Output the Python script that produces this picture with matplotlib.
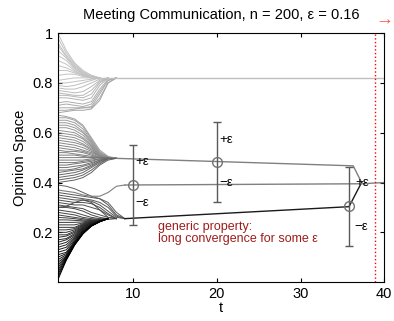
import numpy as np
import matplotlib
matplotlib.use('Agg')
import matplotlib.pyplot as plt

plt.rcParams['font.family'] = ['Liberation Sans', 'DejaVu Sans']

# trajectories for t = 1, 2, 3, ... (each row one agent)
top_rows = [
    [1.00, 0.93, 0.88, 0.85, 0.83, 0.82],
    [0.98, 0.92, 0.875, 0.845, 0.83, 0.82],
    [0.96, 0.91, 0.87, 0.84, 0.825, 0.82],
    [0.95, 0.905, 0.865, 0.84, 0.825, 0.82],
    [0.93, 0.90, 0.86, 0.835, 0.825, 0.82],
    [0.91, 0.89, 0.855, 0.835, 0.82, 0.82],
    [0.89, 0.875, 0.85, 0.83, 0.82, 0.82],
    [0.87, 0.86, 0.845, 0.83, 0.82, 0.82],
    [0.85, 0.85, 0.84, 0.83, 0.82, 0.82],
    [0.83, 0.835, 0.835, 0.825, 0.82, 0.82],
    [0.81, 0.815, 0.82, 0.82, 0.82, 0.82],
    [0.80, 0.80, 0.805, 0.81, 0.815, 0.82],
    [0.79, 0.785, 0.79, 0.80, 0.81, 0.82],
    [0.78, 0.775, 0.775, 0.785, 0.80, 0.815, 0.82],
    [0.77, 0.765, 0.76, 0.765, 0.785, 0.81, 0.82],
    [0.76, 0.755, 0.75, 0.75, 0.77, 0.805, 0.82],
    [0.75, 0.75, 0.745, 0.74, 0.755, 0.80, 0.82],
    [0.74, 0.74, 0.735, 0.73, 0.74, 0.79, 0.82],
    [0.72, 0.725, 0.72, 0.715, 0.725, 0.775, 0.815, 0.82],
    [0.71, 0.715, 0.71, 0.705, 0.715, 0.765, 0.81, 0.82],
    [0.70, 0.70, 0.70, 0.70, 0.705, 0.755, 0.81, 0.82],
    [0.69, 0.69, 0.695, 0.70, 0.70, 0.74, 0.80, 0.82],
    [0.68, 0.685, 0.69, 0.69, 0.695, 0.73, 0.80, 0.82],
]

mid_rows = [
    [0.67, 0.665, 0.655, 0.63, 0.58, 0.53, 0.505, 0.497],
    [0.66, 0.66, 0.65, 0.625, 0.575, 0.525, 0.503, 0.497],
    [0.65, 0.65, 0.64, 0.615, 0.57, 0.52, 0.502, 0.497],
    [0.64, 0.64, 0.63, 0.605, 0.565, 0.52, 0.50, 0.497],
    [0.63, 0.63, 0.62, 0.60, 0.56, 0.515, 0.50, 0.497],
    [0.62, 0.62, 0.61, 0.59, 0.555, 0.515, 0.50, 0.497],
    [0.61, 0.605, 0.60, 0.58, 0.55, 0.51, 0.50, 0.497],
    [0.60, 0.595, 0.59, 0.575, 0.545, 0.51, 0.50, 0.497],
    [0.59, 0.585, 0.58, 0.565, 0.54, 0.51, 0.50, 0.497],
    [0.58, 0.575, 0.57, 0.555, 0.535, 0.505, 0.50, 0.497],
    [0.57, 0.565, 0.56, 0.55, 0.53, 0.505, 0.50, 0.497],
    [0.56, 0.555, 0.55, 0.54, 0.525, 0.505, 0.50, 0.497],
    [0.55, 0.545, 0.54, 0.53, 0.52, 0.505, 0.50, 0.497],
    [0.54, 0.535, 0.53, 0.525, 0.515, 0.50, 0.50, 0.497],
    [0.53, 0.525, 0.525, 0.52, 0.51, 0.50, 0.50, 0.497],
    [0.52, 0.52, 0.515, 0.51, 0.505, 0.50, 0.50, 0.497],
    [0.51, 0.51, 0.51, 0.505, 0.50, 0.50, 0.497],
    [0.50, 0.50, 0.50, 0.50, 0.50, 0.50, 0.497],
    [0.49, 0.49, 0.49, 0.49, 0.495, 0.50, 0.497],
    [0.48, 0.48, 0.48, 0.485, 0.49, 0.495, 0.497],
    [0.47, 0.47, 0.475, 0.48, 0.485, 0.495, 0.497],
    [0.46, 0.46, 0.465, 0.47, 0.48, 0.49, 0.497],
    [0.45, 0.45, 0.455, 0.465, 0.475, 0.49, 0.497],
    [0.44, 0.445, 0.45, 0.455, 0.47, 0.485, 0.497],
    [0.43, 0.435, 0.44, 0.45, 0.465, 0.485, 0.497],
    [0.42, 0.425, 0.43, 0.44, 0.46, 0.48, 0.495, 0.497],
    [0.41, 0.415, 0.42, 0.43, 0.45, 0.475, 0.495, 0.497],
    [0.40, 0.405, 0.41, 0.42, 0.44, 0.47, 0.49, 0.497],
]

center_row = [0.37, 0.365, 0.36, 0.35, 0.345, 0.345, 0.36, 0.385, 0.39]

low_rows = [
    [0.39, 0.385, 0.375, 0.36, 0.345, 0.335, 0.32, 0.28, 0.255],
    [0.36, 0.355, 0.35, 0.345, 0.34, 0.335, 0.31, 0.27, 0.255],
    [0.35, 0.345, 0.34, 0.335, 0.33, 0.32, 0.30, 0.265, 0.255],
    [0.34, 0.335, 0.33, 0.33, 0.325, 0.31, 0.285, 0.26, 0.255],
    [0.33, 0.325, 0.32, 0.32, 0.315, 0.30, 0.275, 0.255],
    [0.32, 0.315, 0.31, 0.31, 0.30, 0.29, 0.27, 0.255],
    [0.30, 0.305, 0.32, 0.33, 0.32, 0.29, 0.26, 0.255],
    [0.31, 0.305, 0.30, 0.295, 0.28, 0.27, 0.26, 0.255],
    [0.30, 0.30, 0.295, 0.285, 0.27, 0.26, 0.255],
    [0.29, 0.285, 0.28, 0.27, 0.26, 0.255, 0.252, 0.255],
    [0.28, 0.275, 0.27, 0.26, 0.255, 0.252, 0.255],
    [0.27, 0.265, 0.26, 0.255, 0.25, 0.25, 0.255],
    [0.26, 0.258, 0.255, 0.25, 0.25, 0.25, 0.255],
    [0.25, 0.25, 0.248, 0.246, 0.248, 0.25, 0.255],
    [0.24, 0.24, 0.24, 0.242, 0.246, 0.25, 0.255],
    [0.23, 0.23, 0.23, 0.238, 0.245, 0.25, 0.255],
    [0.22, 0.22, 0.22, 0.235, 0.244, 0.249, 0.255],
    [0.21, 0.21, 0.215, 0.232, 0.243, 0.249, 0.255],
    [0.20, 0.20, 0.21, 0.23, 0.242, 0.249, 0.255],
    [0.19, 0.19, 0.205, 0.227, 0.241, 0.248, 0.255],
    [0.18, 0.185, 0.20, 0.225, 0.24, 0.248, 0.255],
    [0.17, 0.175, 0.195, 0.222, 0.239, 0.248, 0.255],
    [0.16, 0.17, 0.19, 0.22, 0.238, 0.247, 0.255],
    [0.15, 0.16, 0.185, 0.218, 0.236, 0.247, 0.255],
    [0.14, 0.15, 0.18, 0.215, 0.235, 0.246, 0.255],
    [0.13, 0.14, 0.175, 0.212, 0.233, 0.246, 0.255],
    [0.12, 0.13, 0.17, 0.21, 0.232, 0.245, 0.255],
    [0.11, 0.12, 0.165, 0.207, 0.231, 0.245, 0.255],
    [0.10, 0.115, 0.162, 0.205, 0.23, 0.245, 0.255],
    [0.09, 0.11, 0.16, 0.203, 0.229, 0.244, 0.255],
    [0.08, 0.105, 0.158, 0.202, 0.229, 0.244, 0.255],
    [0.07, 0.102, 0.156, 0.201, 0.228, 0.244, 0.255],
    [0.06, 0.10, 0.155, 0.20, 0.228, 0.244, 0.255],
    [0.05, 0.097, 0.153, 0.198, 0.227, 0.243, 0.255],
    [0.04, 0.095, 0.152, 0.197, 0.226, 0.243, 0.255],
    [0.03, 0.092, 0.151, 0.196, 0.226, 0.243, 0.255],
    [0.02, 0.09, 0.15, 0.195, 0.225, 0.243, 0.255],
    [0.01, 0.088, 0.149, 0.194, 0.225, 0.242, 0.255],
]

# slow phase of the clusters after convergence
top_t = [6, 40]
top_y = [0.82, 0.82]
mid_t = [8, 36.3, 37.3]
mid_y = [0.497, 0.467, 0.40]
low_t = [9, 35.8, 37.3]
low_y = [0.255, 0.303, 0.40]
cen_t = [9, 37.3, 40]
cen_y = [0.39, 0.395, 0.40]

# the +/- eps markers
eps = 0.16
mark_t = [10, 20, 35.8]
mark_y = [0.39, 0.483, 0.304]
t_end = 38.9

fig = plt.figure(figsize=(3.94, 3.21), dpi=100)
ax = fig.add_axes([0.147, 0.121, 0.828, 0.776])


def shade(x0):
    return str(round(min(0.95 * x0, 0.76), 3))


for rows in (low_rows, mid_rows, top_rows):
    for r in rows:
        ax.plot(np.arange(1, len(r) + 1), r, color=shade(r[0]), lw=0.7)
ax.plot(np.arange(1, len(center_row) + 1), center_row, color='0.5', lw=0.8)

ax.plot(top_t, top_y, color='0.75', lw=1.0)
ax.plot(mid_t, mid_y, color='0.5', lw=1.0)
ax.plot(low_t, low_y, color='0.1', lw=1.0)
ax.plot(cen_t, cen_y, color='0.5', lw=1.0)

ax.errorbar(mark_t, mark_y, yerr=eps, fmt='o', ms=7, mfc='none',
            mec='0.45', ecolor='0.35', elinewidth=1, capsize=3, lw=1)

ax.axvline(t_end, color='red', ls=':', lw=1)

tf = dict(fontsize=9.5, color='black')
ax.text(10.3, 0.47, '+ε', **tf)
ax.text(10.3, 0.305, '−ε', **tf)
ax.text(20.3, 0.56, '+ε', **tf)
ax.text(20.3, 0.385, '−ε', **tf)
ax.text(36.6, 0.385, '+ε', **tf)
ax.text(36.5, 0.21, '−ε', **tf)

ax.text(13.0, 0.245, 'generic property:\nlong convergence for some ε',
        fontsize=9, color='#a01c1c', linespacing=1.0, va='top')

ax.set_xlim(1, 40)
ax.set_ylim(0, 1)
ax.set_xticks([10, 20, 30, 40])
ax.set_yticks([0.2, 0.4, 0.6, 0.8, 1])
ax.set_yticklabels(['0.2', '0.4', '0.6', '0.8', '1'])
ax.tick_params(direction='in', top=True, right=True, length=3, labelsize=10.5)
ax.set_xlabel('t', fontsize=10.5, labelpad=0)
ax.set_ylabel('Opinion Space', fontsize=10.5)
ax.set_title('Meeting Communication, n = 200, ε = 0.16', fontsize=10.5, pad=10)
fig.text(0.975, 0.925, '→', color='#ff5555', fontsize=13, ha='center')

fig.savefig('out.png', dpi=100)
